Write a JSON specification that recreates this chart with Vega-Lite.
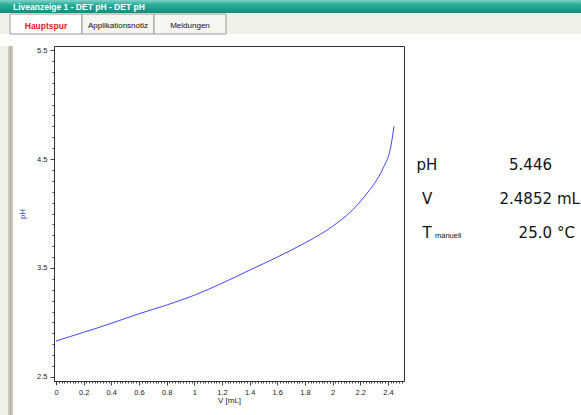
{
  "$schema": "https://vega.github.io/schema/vega-lite/v6.json",
  "background": "white",
  "padding": 0,
  "spacing": 0,
  "config": {
    "view": {"stroke": null},
    "font": "Liberation Sans",
    "concat": {"spacing": 0},
    "axis": {"grid": false, "labelFont": "Liberation Sans", "labelFontSize": 7.5, "labelColor": "#222222", "domainColor": "#333333", "tickColor": "#444444", "titleFont": "Liberation Sans", "titleFontWeight": "normal", "titleFontSize": 8}
  },
  "datasets": {
    "reiter": [{"reiter": "Hauptspur"}, {"reiter": "Applikationsnotiz"}, {"reiter": "Meldungen"}],
    "kurve": [
      {"V": 0, "pH": 2.83}, {"V": 0.1, "pH": 2.87}, {"V": 0.2, "pH": 2.91}, {"V": 0.3, "pH": 2.95},
      {"V": 0.463, "pH": 3.02}, {"V": 0.6, "pH": 3.08}, {"V": 0.8, "pH": 3.16}, {"V": 1.0, "pH": 3.25},
      {"V": 1.2, "pH": 3.36}, {"V": 1.4, "pH": 3.48}, {"V": 1.6, "pH": 3.6}, {"V": 1.8, "pH": 3.73},
      {"V": 1.95, "pH": 3.84}, {"V": 2.05, "pH": 3.93}, {"V": 2.15, "pH": 4.04}, {"V": 2.22, "pH": 4.14},
      {"V": 2.27, "pH": 4.22}, {"V": 2.32, "pH": 4.31}, {"V": 2.37, "pH": 4.43}, {"V": 2.415, "pH": 4.58},
      {"V": 2.444, "pH": 4.8}
    ],
    "anzeige": [
      {"Größe": "pH", "Index": "", "Wert": "5.446", "Einheit": ""},
      {"Größe": "V", "Index": "", "Wert": "2.4852", "Einheit": "mL"},
      {"Größe": "T", "Index": "manuell", "Wert": "25.0", "Einheit": "°C"}
    ]
  },
  "vconcat": [
    {
      "width": 581,
      "height": 13,
      "data": {"values": [{}]},
      "mark": {"type": "rect", "color": {"gradient": "linear", "x1": 0, "y1": 0, "x2": 0, "y2": 1, "stops": [{"offset": 0, "color": "#7ED3C6"}, {"offset": 0.35, "color": "#2AAE9C"}, {"offset": 1, "color": "#138C7C"}]}},
      "encoding": {},
      "title": {"text": "Liveanzeige 1 - DET pH - DET pH", "anchor": "start", "orient": "top", "offset": -11, "dx": 13, "fontSize": 8.5, "fontWeight": "bold", "color": "white", "font": "Liberation Sans"}
    },
    {
      "width": 581,
      "height": 20,
      "view": {"fill": "#F1F0E9", "stroke": null},
      "data": {"name": "reiter"},
      "layer": [
        {
          "mark": {"type": "bar", "stroke": "#9A9C98", "strokeWidth": 1},
          "encoding": {
            "x": {"field": "reiter", "type": "nominal", "sort": null, "axis": null, "scale": {"range": [10, 226], "paddingInner": 0, "paddingOuter": 0}},
            "fill": {"condition": {"test": "datum.reiter === 'Hauptspur'", "value": "#FFFFFF"}, "value": "#F6F5F0"}
          }
        },
        {
          "transform": [{"filter": "datum.reiter === 'Hauptspur'"}],
          "mark": {"type": "text", "color": "#E0201C", "fontWeight": "bold", "fontSize": 8.5, "font": "Liberation Sans", "dy": 2},
          "encoding": {"x": {"field": "reiter", "type": "nominal", "sort": null}, "text": {"field": "reiter"}}
        },
        {
          "transform": [{"filter": "datum.reiter !== 'Hauptspur'"}],
          "mark": {"type": "text", "color": "#111111", "fontSize": 8, "font": "Liberation Sans", "dy": 2},
          "encoding": {"x": {"field": "reiter", "type": "nominal", "sort": null}, "text": {"field": "reiter"}}
        }
      ]
    },
    {
      "hconcat": [
        {
          "width": 18,
          "height": 377,
          "data": {"values": [{}]},
          "mark": {"type": "rect", "color": {"gradient": "linear", "x1": 0, "y1": 0, "x2": 1, "y2": 0, "stops": [{"offset": 0, "color": "#F1F0E9"}, {"offset": 0.44, "color": "#F1F0E9"}, {"offset": 0.45, "color": "#D6D3C6"}, {"offset": 0.58, "color": "#B8B5A8"}, {"offset": 0.7, "color": "#CFCCC0"}, {"offset": 0.71, "color": "#FFFFFF"}, {"offset": 1, "color": "#FFFFFF"}]}},
          "encoding": {}
        },
        {
          "width": 350,
          "height": 335,
          "view": {"stroke": "#333333", "strokeWidth": 1},
          "title": {"text": " ", "fontSize": 1, "offset": 9},
          "data": {"name": "kurve"},
          "mark": {"type": "line", "color": "#4545FF", "strokeWidth": 1, "interpolate": "monotone"},
          "encoding": {
            "x": {
              "field": "V", "type": "quantitative",
              "scale": {"domain": [-0.0145, 2.516], "nice": false, "zero": false},
              "axis": {
                "title": "V [mL]", "titleColor": "#222222", "titlePadding": 1,
                "tickCount": 125, "labelOverlap": false, "labelFlush": false, "labelPadding": 3,
                "labelExpr": "abs(datum.value*5 - round(datum.value*5)) < 0.001 ? format(datum.value, '~g') : ''",
                "tickSize": {"condition": {"test": "abs(datum.value*5 - round(datum.value*5)) < 0.001", "value": 4}, "value": 2}
              }
            },
            "y": {
              "field": "pH", "type": "quantitative",
              "scale": {"domain": [2.463, 5.537], "nice": false, "zero": false},
              "axis": {
                "title": "pH", "titleColor": "#3A3ACC", "titlePadding": 10,
                "tickCount": 31, "labelOverlap": false, "labelPadding": 3,
                "labelExpr": "abs(datum.value - 0.5 - round(datum.value - 0.5)) < 0.001 ? format(datum.value, '.1f') : ''",
                "tickSize": {"condition": {"test": "abs(datum.value - 0.5 - round(datum.value - 0.5)) < 0.001", "value": 4}, "value": 2}
              }
            }
          }
        },
        {
          "width": 177,
          "height": 335,
          "title": {"text": " ", "fontSize": 1, "offset": 9},
          "data": {"name": "anzeige"},
          "encoding": {
            "y": {"field": "Größe", "type": "nominal", "sort": null, "axis": null, "scale": {"type": "point", "domain": ["pH", "V", "T"], "range": [119, 187], "padding": 0}}
          },
          "layer": [
            {
              "mark": {"type": "text", "font": "DejaVu Sans", "fontSize": 15, "color": "#111111", "align": "center", "baseline": "middle"},
              "encoding": {"x": {"datum": "Größe", "type": "nominal", "axis": null, "scale": {"type": "point", "domain": ["Größe", "Wert"], "range": [22, 147], "padding": 0}}, "text": {"field": "Größe"}}
            },
            {
              "mark": {"type": "text", "font": "Liberation Sans", "fontSize": 7.5, "color": "#111111", "align": "left", "baseline": "middle", "dx": 8, "dy": 3},
              "encoding": {"x": {"datum": "Größe", "type": "nominal"}, "text": {"field": "Index"}}
            },
            {
              "mark": {"type": "text", "font": "DejaVu Sans", "fontSize": 15, "color": "#111111", "align": "right", "baseline": "middle"},
              "encoding": {"x": {"datum": "Wert", "type": "nominal"}, "text": {"field": "Wert"}}
            },
            {
              "mark": {"type": "text", "font": "DejaVu Sans", "fontSize": 15, "color": "#111111", "align": "left", "baseline": "middle", "dx": 5},
              "encoding": {"x": {"datum": "Wert", "type": "nominal"}, "text": {"field": "Einheit"}}
            }
          ]
        }
      ]
    }
  ]
}
